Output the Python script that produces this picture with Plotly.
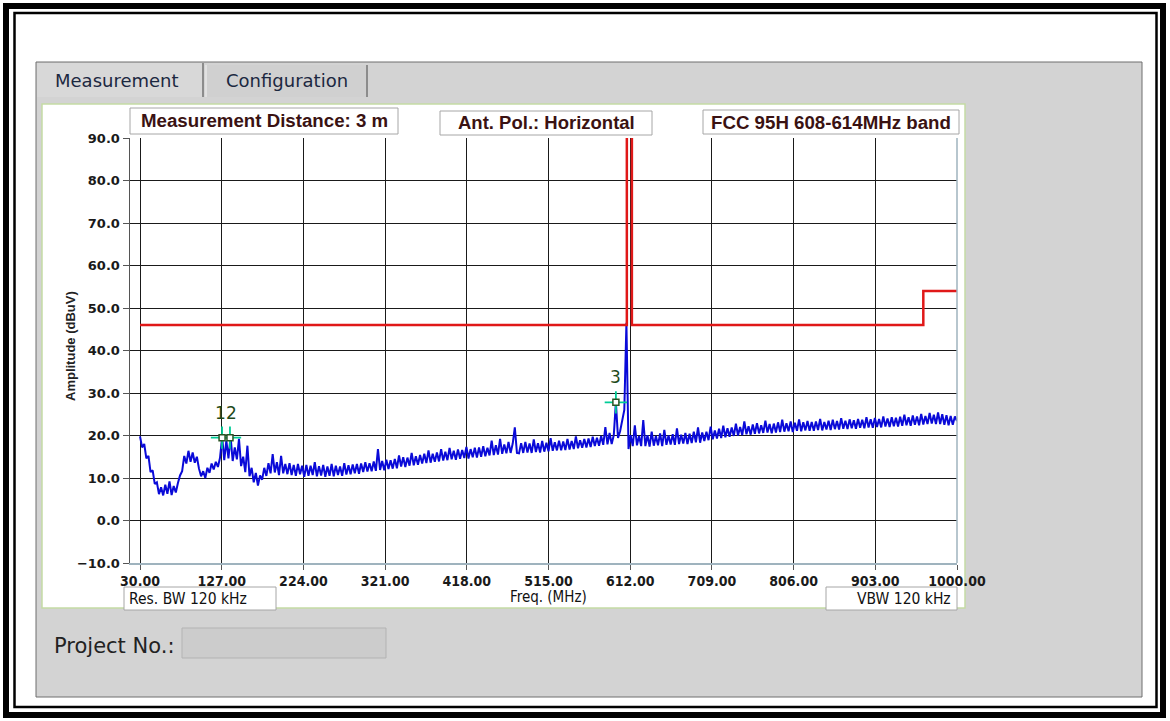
import numpy as np
import plotly.graph_objects as go

# ---------------- data ----------------
FREQ_START = 30.0      # MHz, first sweep point
FREQ_STEP = 2.5        # MHz between sweep points
AMPLITUDE = [  # dBuV, measured trace
    19.8, 17.2, 18.0, 14.6, 15.2, 11.4, 11.8, 8.6, 9.0, 6.2, 7.8, 5.9, 8.4, 6.3, 9.2, 6.0, 8.1, 6.6, 8.8, 10.6,
    11.6, 15.2, 13.4, 16.4, 13.8, 16.0, 13.6, 15.0, 12.2, 10.4, 11.6, 10.0, 12.4, 11.2, 13.4, 12.0, 13.8, 12.6, 14.8, 19.6,
    14.2, 18.8, 14.6, 19.8, 14.0, 17.2, 14.4, 19.2, 12.8, 15.0, 11.4, 17.6, 10.4, 12.4, 9.0, 11.2, 8.2, 10.6, 9.6, 12.4,
    10.5, 13.5, 11.1, 15.6, 11.3, 13.7, 10.7, 15.2, 11.1, 13.3, 10.9, 13.5, 10.7, 13.1, 10.5, 13.3, 10.9, 12.9, 10.3, 13.1,
    10.5, 12.9, 10.7, 13.7, 10.4, 12.8, 10.6, 13.1, 10.3, 12.7, 10.5, 13.3, 10.4, 12.9, 10.7, 12.7, 10.5, 13.5, 10.8, 13.0,
    10.9, 13.2, 11.1, 13.3, 11.0, 13.4, 11.4, 13.7, 11.5, 13.5, 11.6, 13.9, 11.7, 16.8, 11.9, 14.0, 11.8, 14.3, 12.1, 14.2,
    12.2, 14.5, 12.3, 15.3, 12.7, 14.9, 12.6, 14.8, 12.9, 15.9, 13.0, 15.1, 13.1, 15.4, 13.4, 15.7, 13.5, 16.5, 13.6, 15.7,
    13.8, 16.0, 13.9, 16.8, 14.1, 16.2, 14.2, 17.1, 14.4, 16.4, 14.3, 16.7, 14.5, 16.6, 14.7, 17.3, 14.6, 16.8, 14.9, 17.1,
    14.8, 17.2, 15.0, 17.5, 15.1, 17.1, 15.3, 18.8, 15.4, 17.7, 15.5, 19.2, 15.7, 17.9, 15.8, 18.5, 15.9, 18.1, 21.9, 15.9,
    15.8, 18.2, 15.9, 18.5, 16.0, 18.1, 15.9, 19.1, 16.1, 18.2, 16.0, 18.7, 16.2, 18.3, 16.3, 19.4, 16.4, 18.4, 16.5, 18.8,
    16.5, 18.6, 16.6, 19.2, 16.7, 18.7, 16.8, 19.8, 17.0, 18.9, 17.1, 19.2, 17.2, 19.3, 17.3, 19.7, 17.5, 19.5, 17.6, 19.9,
    17.8, 22.0, 17.9, 20.6, 18.0, 20.1, 27.8, 19.4, 21.0, 23.8, 26.0, 46.5, 16.8, 20.1, 17.5, 22.4, 17.7, 19.9, 17.5, 23.6,
    17.5, 20.1, 17.4, 20.9, 17.6, 19.9, 17.7, 20.5, 17.5, 21.3, 17.8, 20.0, 17.9, 20.3, 17.8, 21.7, 18.0, 20.2, 18.1, 20.6,
    18.0, 20.4, 18.2, 20.9, 18.4, 21.9, 18.3, 20.7, 18.7, 20.9, 18.9, 22.1, 19.1, 21.2, 19.3, 21.6, 19.4, 22.3, 19.6, 21.7,
    19.7, 21.9, 19.9, 22.8, 20.0, 22.0, 20.1, 23.3, 20.3, 22.2, 20.2, 22.6, 20.4, 22.9, 20.5, 22.4, 20.6, 23.5, 20.7, 22.7,
    20.5, 22.8, 20.7, 23.1, 20.8, 23.7, 20.9, 22.9, 21.0, 23.3, 20.8, 23.0, 21.1, 23.8, 21.0, 23.1, 21.2, 23.4, 21.1, 23.2,
    21.1, 23.3, 21.3, 23.9, 21.2, 23.2, 21.4, 23.5, 21.3, 23.7, 21.5, 23.4, 21.4, 24.1, 21.6, 23.5, 21.5, 23.8, 21.7, 23.6,
    21.6, 23.9, 21.8, 23.7, 21.7, 24.3, 21.9, 23.8, 21.8, 24.1, 22.0, 23.9, 21.9, 24.5, 22.1, 24.0, 22.0, 24.3, 22.2, 24.2,
    22.1, 24.4, 22.3, 24.9, 22.4, 24.3, 22.3, 24.7, 22.5, 24.5, 22.4, 25.1, 22.6, 24.6, 22.7, 25.3, 22.8, 24.9, 22.7, 25.4,
    22.7, 25.0, 22.5, 24.8, 22.4, 24.6, 22.5, 24.5, 23.4,
]
LIMIT_FREQ = [30, 608, 608, None, 614, 614, 960, 960, 1000]
LIMIT_DB = [46, 46, 95, None, 95, 46, 46, 54, 54]
MARKER_FREQ = [127.4, 136.8, 595.0]
MARKER_DB = [19.5, 19.5, 27.8]
MARKER_LABELS = ["1", "2", "3"]
X_TICKS = [30, 127, 224, 321, 418, 515, 612, 709, 806, 903, 1000]
Y_TICKS = [-10, 0, 10, 20, 30, 40, 50, 60, 70, 80, 90]
X_MIN = 18.1

freq = FREQ_START + FREQ_STEP * np.arange(len(AMPLITUDE))

# ---------------- layout helpers (page pixel -> paper) ----------------
W, H = 1170, 721
L, R, T, B = 130, 957, 138, 563   # plot area in page pixels


def px(x):
    return (x - L) / (R - L)


def py(y):
    return (B - y) / (B - T)


def rect(x0, y0, x1, y1, fill=None, line=None, lw=1, layer="below"):
    return dict(type="rect", xref="paper", yref="paper",
                x0=px(x0), x1=px(x1), y0=py(y1), y1=py(y0),
                fillcolor=fill if fill else "rgba(0,0,0,0)",
                line=dict(color=line if line else "rgba(0,0,0,0)", width=lw if line else 0),
                layer=layer)


def seg(x0, y0, x1, y1, color, lw=1, layer="above"):
    return dict(type="line", xref="paper", yref="paper",
                x0=px(x0), x1=px(x1), y0=py(y0), y1=py(y1),
                line=dict(color=color, width=lw), layer=layer)


def text(x, y, s, size, color="#222222", family="DejaVu Sans", weight="normal",
         xanchor="center", angle=0):
    return dict(x=px(x), y=py(y), xref="paper", yref="paper", text=s, showarrow=False,
                xanchor=xanchor, yanchor="middle", textangle=angle,
                font=dict(size=size, color=color, family=family, weight=weight))


NARROW = "DejaVu Sans Condensed, Liberation Sans Narrow, Arial Narrow, DejaVu Sans"

fig = go.Figure()

fig.add_trace(go.Scatter(x=freq, y=AMPLITUDE, mode="lines",
                         line=dict(color="#0a0ad8", width=2.0), hoverinfo="skip"))
fig.add_trace(go.Scatter(x=LIMIT_FREQ, y=LIMIT_DB, mode="lines", connectgaps=False,
                         line=dict(color="#e01818", width=2.5), hoverinfo="skip"))
fig.add_trace(go.Scatter(x=MARKER_FREQ, y=MARKER_DB, mode="markers",
                         marker=dict(symbol="cross-thin-open", size=16,
                                     line=dict(color="#2a5424", width=1.8)),
                         hoverinfo="skip"))
fig.add_trace(go.Scatter(x=MARKER_FREQ, y=MARKER_DB, mode="markers",
                         marker=dict(symbol="square", size=6, color="white",
                                     line=dict(color="#2a5424", width=1.5)),
                         hoverinfo="skip"))

shapes = [
    # gray window panel
    rect(36, 62, 1142, 697, fill="#d3d3d3", line="#6f6f6f", lw=1),
    # tabs
    rect(37, 63, 203, 97, fill="#d8d8d8"),
    rect(205, 65, 367, 97, fill="#d0d0d0"),
    seg(203, 63, 203, 97, "#8c8c8c", 2, "below"),
    seg(367, 65, 367, 97, "#8c8c8c", 2, "below"),
    seg(206, 65, 206, 97, "#f2f2f2", 1, "below"),
    # white chart area
    rect(42, 104, 965, 608, fill="white", line="#c5dba5", lw=1.5),
    # project number box
    rect(182, 628, 386, 658, fill="#cccccc", line="#b3b3b3", lw=1),
    # header boxes
    rect(130, 108, 398, 134, fill="white", line="#a6a6a6", lw=1, layer="above"),
    rect(440, 111, 652, 135, fill="white", line="#a6a6a6", lw=1, layer="above"),
    rect(703, 110, 959, 134, fill="white", line="#a6a6a6", lw=1, layer="above"),
    # bottom boxes
    rect(124, 587, 276, 610, fill="white", line="#a6a6a6", lw=1, layer="above"),
    rect(826, 587, 957, 610, fill="white", line="#a6a6a6", lw=1, layer="above"),
    # light plot border right
    seg(957, 138, 957, 563, "#9fb3be", 1.5),
    # outer double frame
    rect(6, 6, 1163, 715, line="black", lw=6, layer="above"),
    rect(14.5, 13, 1156.5, 707, line="black", lw=2.5, layer="above"),
]

annotations = [
    text(117, 80, "Measurement", 18, color="#1c2841"),
    text(287, 80, "Configuration", 18, color="#1c2841"),
    text(264, 121, "Measurement Distance: 3 m", 18.7, color="#3a1212",
         family="Liberation Sans", weight="bold"),
    text(546, 123, "Ant. Pol.: Horizontal", 18.5, color="#3a1212",
         family="Liberation Sans", weight="bold"),
    text(831, 122, "FCC 95H 608-614MHz band", 18.7, color="#3a1212",
         family="Liberation Sans", weight="bold"),
    text(127, 599, "Res. BW 120 kHz", 15.5, color="#111111", family=NARROW, xanchor="left"),
    text(953, 599, "VBW 120 kHz", 15.5, color="#111111", family=NARROW, xanchor="right"),
    text(548, 597, "Freq. (MHz)", 15, color="#111111", family=NARROW),
    text(70, 346, "Amplitude (dBuV)", 13, color="#222222",
         family="Liberation Sans", weight="bold", angle=-90),
    text(52, 646, "Project No.:", 21, color="#222222", xanchor="left"),
]
label_anchor = {"1": ("right", 5), "2": ("left", -5), "3": ("center", 0)}
for f, d, s in zip(MARKER_FREQ, MARKER_DB, MARKER_LABELS):
    anc, sh = label_anchor[s]
    annotations.append(dict(x=f, y=d, xref="x", yref="y", text=s, showarrow=False,
                            xanchor=anc, xshift=sh, yshift=25, borderpad=0,
                            font=dict(size=17, color="#1f4a1a", family="DejaVu Sans")))

fig.update_layout(
    width=W, height=H,
    margin=dict(l=L, r=W - R, t=T, b=H - B, pad=0),
    paper_bgcolor="white", plot_bgcolor="white",
    showlegend=False,
    shapes=shapes, annotations=annotations,
    xaxis=dict(range=[X_MIN, 1000], tickvals=X_TICKS, tickformat=".2f",
               showgrid=True, gridcolor="#1a1a1a", gridwidth=1,
               showline=True, linecolor="#9fb3be", linewidth=1.5,
               ticks="outside", ticklen=5, tickcolor="#555555",
               tickfont=dict(size=14, color="#1a1a1a", family=NARROW, weight="bold"),
               zeroline=False, fixedrange=True),
    yaxis=dict(range=[-10, 90], tickvals=Y_TICKS, tickformat=".1f",
               showgrid=True, gridcolor="#1a1a1a", gridwidth=1,
               showline=True, linecolor="#555555", linewidth=1.5,
               ticks="outside", ticklen=6, tickcolor="#555555",
               tickfont=dict(size=13, color="#1a1a1a", family="DejaVu Sans", weight="bold"),
               zeroline=False, fixedrange=True),
)

fig.write_html("out.html",
               config={"displayModeBar": False, "staticPlot": True},
               post_script="document.body.style.margin='0';document.body.style.overflow='hidden';")
